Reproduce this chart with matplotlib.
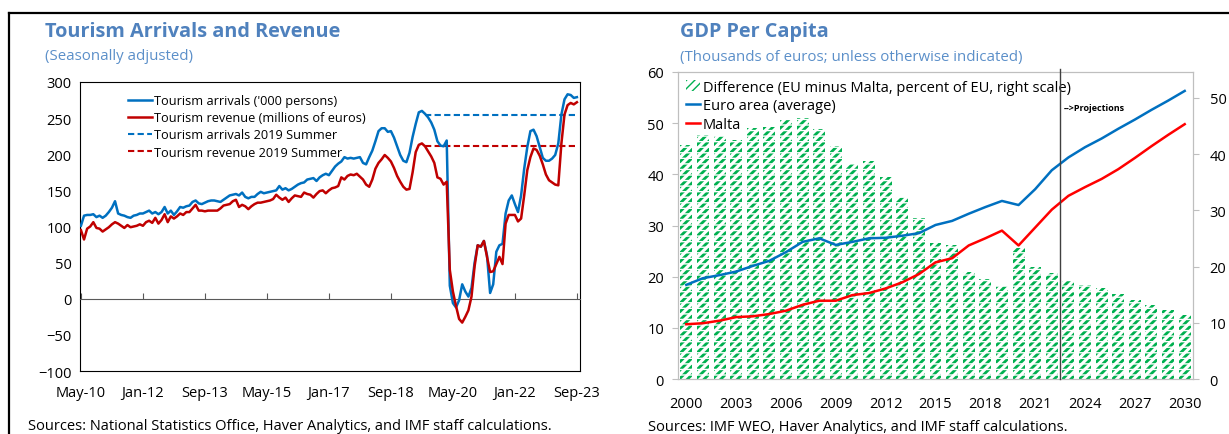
import numpy as np
import pandas as pd
import matplotlib
matplotlib.use("Agg")
import matplotlib.pyplot as plt
from matplotlib.lines import Line2D

plt.rcParams["font.family"] = ["Open Sans", "DejaVu Sans"]

# ---- left panel: monthly, seasonally adjusted, May-2010 .. Sep-2023
start_month = "2010-05"
arrivals = [
    101, 115, 116, 116, 117, 113, 115, 112, 115, 120,
    126, 135, 118, 116, 115, 113, 112, 115, 116, 118,
    118, 120, 122, 118, 120, 117, 120, 127, 118, 122,
    116, 121, 127, 126, 128, 129, 134, 136, 132, 131,
    133, 135, 136, 136, 135, 134, 137, 140, 143, 144,
    145, 143, 147, 141, 139, 141,
    141, 145, 148, 146, 147, 148, 149, 150, 156, 151,
    153, 150, 152, 155, 158, 160, 161, 165, 166, 167,
    163, 168, 171, 173, 171, 177, 183, 187, 190, 196,
    194, 195, 194, 195, 196, 188, 186, 196, 205, 218,
    232, 236, 236, 231, 232, 223, 211, 199, 191, 189,
    202, 224, 242, 258,
    260, 256, 251, 244, 234, 218, 212, 211, 219, 18,
    -6, -12, -2, 20, 10, 3, 15, 50, 74, 72,
    80, 60, 8, 20, 65, 74, 76, 118, 136, 143,
    131, 120, 143, 180, 210, 232, 234, 225, 210, 195,
    191, 191, 194, 199, 215, 255, 276, 283, 282, 278,
    279,
]
revenue = [
    95, 82, 97, 100, 106, 98, 97, 93, 96, 99,
    103, 106, 104, 101, 98, 102, 99, 100, 101, 103,
    101, 106, 108, 105, 112, 104, 109, 117, 106, 114,
    111, 114, 118, 116, 120, 120, 125, 130, 122, 122,
    121, 122, 122, 122, 122, 125, 129, 130, 131, 135,
    137, 127, 130, 128, 124, 128,
    131, 133, 133, 134, 135, 136, 138, 144, 140, 137,
    140, 134, 139, 143, 142, 141, 147, 145, 144, 140,
    145, 149, 150, 146, 150, 153, 154, 156, 168, 165,
    170, 172, 171, 173, 169, 165, 158, 155, 165, 180,
    188, 193, 199, 195, 190, 181, 170, 162, 155, 151,
    152, 175, 203, 213,
    215, 211, 204, 197, 188, 168, 166, 158, 162, 40,
    10, -10, -28, -33, -25, -16, 3, 45, 74, 72,
    80, 58, 37, 38, 48, 58, 48, 104, 116, 116,
    116, 107, 111, 143, 178, 196, 208, 206, 198, 186,
    172, 164, 161, 158, 157, 215, 255, 268, 271, 269,
    272,
]
arrivals_2019_summer = 254
revenue_2019_summer = 211
ref_start = "2019-08"

# ---- right panel: annual, projections from 2023
years = list(range(2000, 2031))
euro_area = [18.4, 19.7, 20.3, 21.0, 22.1, 23.1, 24.8, 26.8, 27.5, 26.2,
             26.8, 27.5, 27.6, 28.0, 28.5, 30.1, 30.9, 32.3, 33.6, 34.8,
             34.0, 37.1, 40.8, 43.3, 45.3, 47.0, 48.9, 50.7, 52.6, 54.4,
             56.3]
malta = [10.7, 10.9, 11.4, 12.1, 12.25, 12.7, 13.35, 14.5, 15.3, 15.3,
         16.4, 16.8, 17.7, 18.9, 20.5, 22.8, 23.6, 26.1, 27.5, 29.0,
         26.1, 29.6, 33.1, 35.8, 37.5, 39.1, 41.0, 43.2, 45.5, 47.7,
         49.8]
difference = [41.6, 43.4, 43.2, 42.5, 44.7, 44.8, 46.3, 46.4, 44.5, 41.5,
              38.3, 38.8, 35.9, 32.4, 28.6, 24.2, 23.8, 19.0, 17.8, 16.6,
              23.3, 20.0, 18.8, 17.5, 16.7, 16.1, 15.1, 14.1, 13.2, 12.3,
              11.4]
projection_start = 2022.5

W, H = 1229, 435
fig = plt.figure(figsize=(W / 100, H / 100), dpi=100)

title_col = "#4F81BD"
sub_col = "#5B8FC9"

# ================= left panel =================
months = pd.date_range(start_month, periods=len(arrivals), freq="MS")
x = np.arange(len(months))
ref_idx = months.get_loc(pd.Timestamp(ref_start))

ax = fig.add_axes([80 / W, 1 - 372 / H, 500 / W, 289 / H])
ax.plot(x, arrivals, color="#0070C0", lw=1.8, label="Tourism arrivals ('000 persons)", zorder=3)
ax.plot(x, revenue, color="#C00000", lw=1.8, label="Tourism revenue (millions of euros)", zorder=4)
ax.hlines(arrivals_2019_summer, ref_idx, x[-1], colors="#0070C0", lw=1.5,
          linestyles=(0, (3, 1.6)), label="Tourism arrivals 2019 Summer")
ax.hlines(revenue_2019_summer, ref_idx, x[-1], colors="#C00000", lw=1.5,
          linestyles=(0, (3, 1.6)), label="Tourism revenue 2019 Summer")

ax.set_ylim(-100, 300)
ax.set_yticks(np.arange(-100, 301, 50))
ax.set_xlim(-0.3, x[-1] + 1)
ticks = x[::20]
ax.set_xticks(ticks)
ax.spines["bottom"].set_position(("data", 0))
ax.spines["bottom"].set_color("#595959")
ax.tick_params(axis="x", direction="in", length=4, color="#595959", labelbottom=False)
ax.tick_params(axis="y", length=0, pad=6, labelsize=10.5)
for s in ["left", "right", "top"]:
    ax.spines[s].set_color("black")

sec = ax.secondary_xaxis(0)
sec.set_xticks(ticks, labels=months[::20].strftime("%b-%y"))
sec.tick_params(length=0, pad=10, labelsize=10.5)
sec.spines["bottom"].set_color("black")

ax.legend(loc="upper left", bbox_to_anchor=(0.08, 0.985), frameon=False, fontsize=9.2,
          handlelength=1.9, handletextpad=0.2, labelspacing=0.33, borderaxespad=0.2)

fig.text(45 / W, 1 - 32 / H, "Tourism Arrivals and Revenue", color=title_col,
         fontsize=14.3, fontweight="bold", va="center")
fig.text(45 / W, 1 - 57 / H, "(Seasonally adjusted)", color=sub_col, fontsize=10.8, va="center")
fig.text(28 / W, 1 - 427 / H, "Sources: National Statistics Office, Haver Analytics, and IMF staff calculations.",
         fontsize=10.5, va="center")

# ================= right panel =================
grey = "#BFBFBF"
ax2 = fig.add_axes([678 / W, 1 - 380 / H, 515 / W, 307 / H])
axr = ax2.twinx()
ax2.set_zorder(axr.get_zorder() + 1)
ax2.patch.set_visible(False)

with plt.rc_context({"hatch.linewidth": 2.0}):
    bars = axr.bar(years, difference, width=0.72, color="white", edgecolor="#00B050",
                   hatch="////", lw=0, label="Difference (EU minus Malta, percent of EU, right scale)")
with plt.rc_context({"hatch.linewidth": 1.0}):
    axr.bar(years, difference, width=0.72, color="none", edgecolor="white", hatch="---", lw=0)

l1, = ax2.plot(years, euro_area, color="#0070C0", lw=1.8, label="Euro area (average)")
l2, = ax2.plot(years, malta, color="#FF0000", lw=1.8, label="Malta")

ax2.set_ylim(0, 60)
ax2.set_yticks(np.arange(0, 61, 10))
axr.set_ylim(0, 54.6)
axr.set_yticks(np.arange(0, 51, 10))
ax2.set_xlim(years[0] - 0.5, years[-1] + 0.5)
ax2.set_xticks(years[::3])
ax2.tick_params(axis="x", length=0, pad=12, labelsize=10.5)
ax2.tick_params(axis="y", length=4, color=grey, pad=6, labelsize=10.5)
axr.tick_params(axis="y", length=4, color=grey, pad=8, labelsize=10.5)
for a in (ax2, axr):
    for s in a.spines.values():
        s.set_color(grey)

ax2.axvline(projection_start, ymin=0, ymax=1.01, color="#404040", lw=1, clip_on=False, zorder=10)
ax2.text(projection_start + 0.25, 53, "-->Projections", fontsize=6.5, fontweight="bold",
         va="center", ha="left")

ax2.legend(handles=[bars, l1, l2], loc="upper left", bbox_to_anchor=(0.0, 1.0), frameon=False,
           fontsize=10.5, handlelength=1.0, handletextpad=0.2, labelspacing=0.25, borderaxespad=0.12)

fig.text(680 / W, 1 - 32 / H, "GDP Per Capita", color=title_col, fontsize=14.3,
         fontweight="bold", va="center")
fig.text(680 / W, 1 - 57 / H, "(Thousands of euros; unless otherwise indicated)", color=sub_col,
         fontsize=10.8, va="center")
fig.text(648 / W, 1 - 428 / H, "Sources: IMF WEO, Haver Analytics, and IMF staff calculations.",
         fontsize=10.5, va="center")

# frame lines around the figure block
fig.add_artist(Line2D([9 / W, 1], [1 - 14 / H, 1 - 14 / H], transform=fig.transFigure, color="black", lw=1.6))
fig.add_artist(Line2D([9 / W, 9 / W], [0, 1 - 14 / H], transform=fig.transFigure, color="black", lw=1.6))

fig.savefig("out.png", dpi=100)
